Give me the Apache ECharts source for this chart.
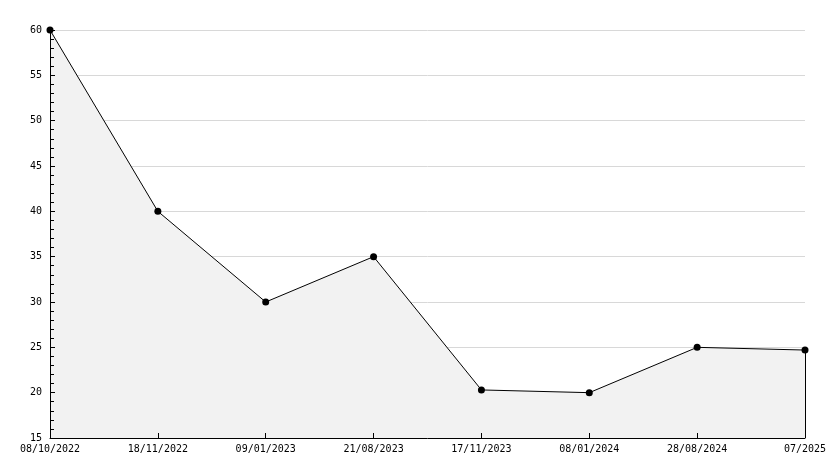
<!DOCTYPE html>
<html><head><meta charset="utf-8">
<script src="https://cdn.jsdelivr.net/npm/echarts@6/dist/echarts.min.js"></script>
<style>html,body{margin:0;padding:0;background:#fff}#c{width:834px;height:468px}</style>
</head><body><div id="c"></div>
<script>
const categories = ['08/10/2022','18/11/2022','09/01/2023','21/08/2023','17/11/2023','08/01/2024','28/08/2024','07/2025'];
const values = [60, 40, 30, 35, 20.3, 20, 25, 24.7];
const yMin = 15, yMax = 60, yStep = 5;

const font = 'DejaVu Sans Mono';
const chart = echarts.init(document.getElementById('c'), null, {renderer: 'canvas'});
chart.setOption({
  animation: false,
  backgroundColor: '#fff',
  grid: {left: 50, right: 29, top: 30, bottom: 30, containLabel: false},
  xAxis: [{
    type: 'category', data: categories, boundaryGap: false, z: 0,
    axisLine: {show: false},
    axisTick: {show: false},
    axisLabel: {color: '#000', fontFamily: font, fontSize: 10, margin: 6, interval: 0},
    splitLine: {show: false}
  }, {
    type: 'category', data: categories, boundaryGap: false, z: 10, position: 'bottom',
    axisLine: {show: true, lineStyle: {color: '#000', width: 1}},
    axisTick: {show: true, inside: true, length: 5, alignWithLabel: true, lineStyle: {color: '#000'}},
    axisLabel: {show: false},
    splitLine: {show: false}
  }],
  yAxis: [{
    type: 'value', min: yMin, max: yMax, interval: yStep, z: 0,
    axisLine: {show: false},
    axisTick: {show: false},
    axisLabel: {color: '#000', fontFamily: font, fontSize: 10, margin: 8},
    splitLine: {show: true, lineStyle: {color: '#d8d8d8', width: 1}}
  }, {
    type: 'value', min: yMin, max: yMax, interval: yStep, z: 10, position: 'left',
    axisLine: {show: true, lineStyle: {color: '#000', width: 1}},
    axisTick: {show: true, inside: true, length: 5, lineStyle: {color: '#000'}},
    minorTick: {show: true, splitNumber: 5, length: 4, lineStyle: {color: '#000'}},
    axisLabel: {show: false},
    splitLine: {show: false}
  }],
  series: [{
    type: 'line', data: values, z: 2,
    symbol: 'circle', symbolSize: 7,
    itemStyle: {color: '#000'},
    lineStyle: {color: '#000', width: 1},
    areaStyle: {color: '#f2f2f2', opacity: 1, origin: 'start'},
    markLine: {
      silent: true, symbol: 'none', label: {show: false},
      lineStyle: {color: '#000', width: 1, type: 'solid'},
      data: [[{xAxis: categories.length - 1, yAxis: yMin}, {xAxis: categories.length - 1, yAxis: values[values.length - 1]}]]
    }
  }]
});
</script></body></html>
